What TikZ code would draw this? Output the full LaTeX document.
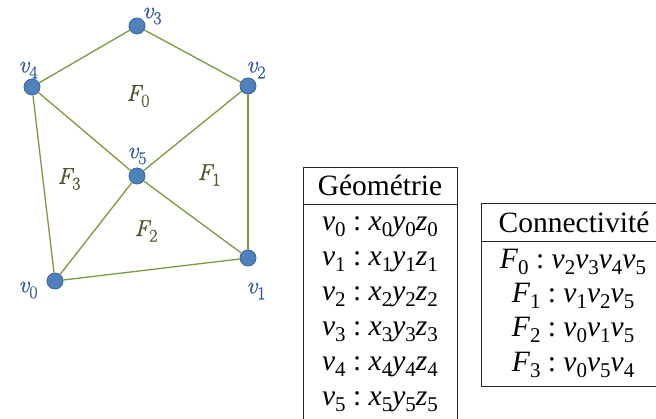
\documentclass[tikz,border=0pt]{standalone}
\usepackage{fontspec}
\setmainfont{Liberation Serif}
\newfontfamily\lmfont[FakeBold=0.8]{Latin Modern Roman}
\definecolor{edgegreen}{HTML}{7A9A3C}
\definecolor{nodefill}{HTML}{4F81BD}
\definecolor{nodeborder}{HTML}{3A6596}
\definecolor{vlabel}{HTML}{2F5B96}
\definecolor{flabel}{HTML}{4A5A2A}
\newcommand\sbs[1]{\raisebox{-0.2em}{\fontsize{21}{21}\selectfont #1}}
\newcommand\iv[2]{\textit{#1}\sbs{#2}}
\newcommand\gl[2]{{\lmfont\itshape #1}\raisebox{-0.25em}{\lmfont\fontsize{18}{18}\selectfont #2}}
\begin{document}
\begin{tikzpicture}[x=1pt,y=-1pt,
  vert/.style={circle,fill=nodefill,draw=nodeborder,line width=0.8pt,minimum size=16pt,inner sep=0pt},
  edge/.style={draw=edgegreen,line width=1.3pt},
  vlab/.style={text=vlabel,font=\fontsize{24}{28}\selectfont,inner sep=0pt},
  flab/.style={text=flabel,font=\fontsize{23}{27}\selectfont,inner sep=0pt},
  tline/.style={draw=black!85,line width=0.9pt},
  ttext/.style={font=\fontsize{29.5}{33}\selectfont,inner sep=0pt,anchor=center}]
\useasboundingbox (0,0) rectangle (656,419);
% vertices
\node[vert] (v0) at (55,281) {};
\node[vert] (v1) at (248,258) {};
\node[vert] (v2) at (248,86) {};
\node[vert] (v3) at (137,26) {};
\node[vert] (v4) at (32,87) {};
\node[vert] (v5) at (137,176) {};
% edges
\path[edge] (v3) -- (v4);
\path[edge] (v3) -- (v2);
\path[edge] (v4) -- (v5);
\path[edge] (v2) -- (v5);
\path[edge] (v4) -- (v0);
\path[edge] (v2) -- (v1);
\path[edge] (v5) -- (v0);
\path[edge] (v5) -- (v1);
\path[edge] (v0) -- (v1);
% vertex labels
\node[vlab] (l0) at (28,290) {\gl{v}{0}};
\node[vlab] (l1) at (256,291) {\gl{v}{1}};
\node[vlab] (l2) at (256,70) {\gl{v}{2}};
\node[vlab] (l3) at (152,16) {\gl{v}{3}};
\node[vlab] (l4) at (28,70) {\gl{v}{4}};
\node[vlab] (l5) at (137,156) {\gl{v}{5}};
% face labels
\node[flab] (f0) at (138,96) {\gl{F}{0}};
\node[flab] (f1) at (209,175) {\gl{F}{1}};
\node[flab] (f2) at (146,231) {\gl{F}{2}};
\node[flab] (f3) at (69,179) {\gl{F}{3}};
% Geometrie table
\draw[tline] (303,425) -- (303,167) -- (457,167) -- (457,425);
\draw[tline] (303,204) -- (457,204);
\node[ttext] (gh) at (380,185) {Géométrie};
\node[ttext] (g0) at (380,227) {\iv{v}{0}~:~\iv{x}{0}\iv{y}{0}\iv{z}{0}};
\node[ttext] (g1) at (380,262) {\iv{v}{1}~:~\iv{x}{1}\iv{y}{1}\iv{z}{1}};
\node[ttext] (g2) at (380,297) {\iv{v}{2}~:~\iv{x}{2}\iv{y}{2}\iv{z}{2}};
\node[ttext] (g3) at (380,332) {\iv{v}{3}~:~\iv{x}{3}\iv{y}{3}\iv{z}{3}};
\node[ttext] (g4) at (380,367) {\iv{v}{4}~:~\iv{x}{4}\iv{y}{4}\iv{z}{4}};
\node[ttext] (g5) at (380,402) {\iv{v}{5}~:~\iv{x}{5}\iv{y}{5}\iv{z}{5}};
% Connectivite table
\draw[tline] (665,203) -- (481,203) -- (481,386) -- (665,386);
\draw[tline] (481,241) -- (665,241);
\node[ttext] (ch) at (574,222) {Connectivité};
\node[ttext] (c0) at (573,262) {\iv{F}{0}~:~\iv{v}{2}\iv{v}{3}\iv{v}{4}\iv{v}{5}};
\node[ttext] (c1) at (573,296) {\iv{F}{1}~:~\iv{v}{1}\iv{v}{2}\iv{v}{5}};
\node[ttext] (c2) at (573,330) {\iv{F}{2}~:~\iv{v}{0}\iv{v}{1}\iv{v}{5}};
\node[ttext] (c3) at (573,365) {\iv{F}{3}~:~\iv{v}{0}\iv{v}{5}\iv{v}{4}};
\end{tikzpicture}
\end{document}
